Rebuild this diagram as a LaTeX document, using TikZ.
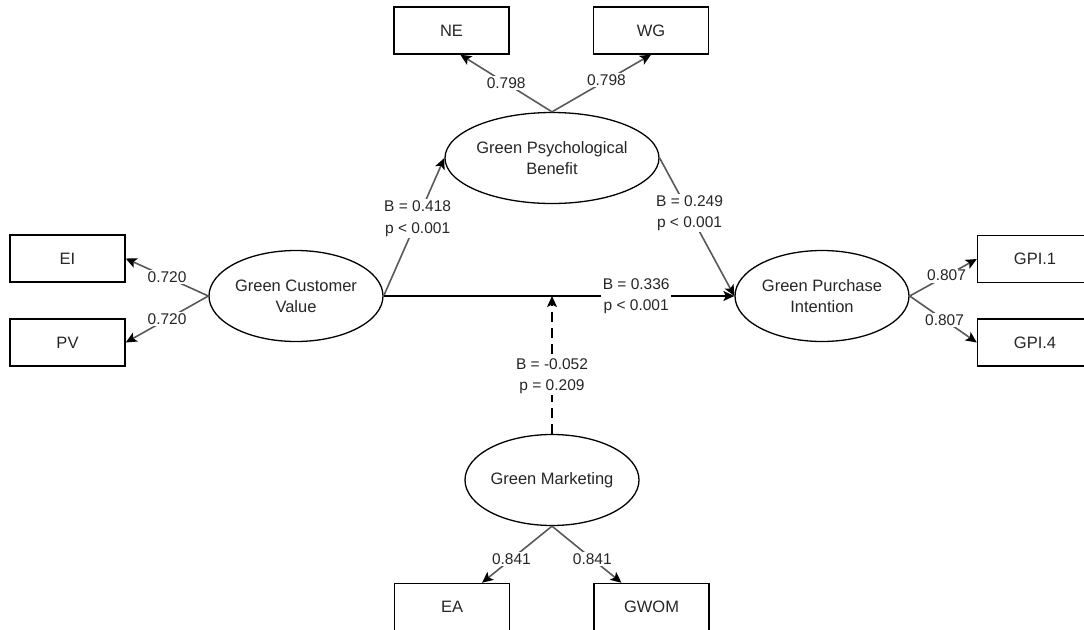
\documentclass[tikz,border=0pt]{standalone}
\usepackage{fontspec}
\setmainfont{Liberation Sans}
\usetikzlibrary{shapes.geometric,arrows.meta,calc}
\definecolor{txtgray}{HTML}{262626}
\definecolor{edgegray}{HTML}{595959}
\tikzset{
  latent/.style={ellipse, draw=black, line width=1.3pt, minimum width=174pt,
    minimum height=91pt, inner sep=0pt, align=center, text=txtgray,
    font=\fontsize{16.5}{21}\selectfont},
  indicator/.style={rectangle, draw=black, line width=1.4pt, minimum width=115pt,
    minimum height=47pt, text=txtgray, font=\fontsize{16.5}{21}\selectfont},
  coef/.style={fill=white, inner sep=1.5pt, align=center, text=txtgray,
    font=\fontsize{15.5}{21.5}\selectfont},
  tip/.style={-{Stealth[length=11pt,width=10pt,inset=2.5pt,color=black]}},
  loading/.style={draw=edgegray, line width=1.6pt, tip},
  regress/.style={draw=edgegray, line width=1.6pt, tip},
}
\begin{document}
\begin{tikzpicture}[x=1pt, y=-1pt]
        \useasboundingbox (0,0) rectangle (1084,629);
        % Latent constructs
        \node[latent] (gcv) at (296,296) {Green Customer\\Value};
        \node[latent] (gpb) at (552,158) {Green Psychological\\Benefit};
        \node[latent] (gpi) at (822,296) {Green Purchase\\Intention};
        \node[latent] (gm) at (552,480) {Green Marketing};

        % Indicators
        \node[indicator] (ne) at (451.5,30.5) {NE};
        \node[indicator] (wg) at (651,30.5) {WG};
        \node[indicator] (ei) at (67.5,258.5) {EI};
        \node[indicator] (pv) at (67.5,342.5) {PV};
        \node[indicator] (gpione) at (1035,259) {GPI.1};
        \node[indicator] (gpifour) at (1035,342.5) {GPI.4};
        \node[indicator] (ea) at (452,607) {EA};
        \node[indicator] (gwom) at (651.5,607) {GWOM};

        % Outer loadings
        \draw[loading] (gpb.north) -- node[coef] {0.798} (ne.-70);
        \draw[loading] (gpb.north) -- node[coef, pos=0.55] {0.798} (wg.south);
        \draw[loading] (gcv.west) -- node[coef] {0.720} (ei.east);
        \draw[loading] (gcv.west) -- node[coef] {0.720} (pv.east);
        \draw[loading] (gpi.east) -- node[coef, pos=0.55] {0.807} (gpione.west);
        \draw[loading] (gpi.east) -- node[coef, pos=0.52] {0.807} (gpifour.west);
        \draw[loading] (gm.south) -- node[coef, pos=0.58] {0.841} ([xshift=30pt]ea.north);
        \draw[loading] (gm.south) -- node[coef, pos=0.58] {0.841} ([xshift=-30pt]gwom.north);

        % Structural paths
        \draw[regress] (gcv.east) -- node[coef, pos=0.56] {B = 0.418\\p < 0.001} (gpb.west);
        \draw[regress] (gpb.east) -- node[coef, pos=0.4] {B = 0.249\\p < 0.001} (gpi.west);
        \draw[draw=black, line width=1.5pt, tip] (gcv.east) -- node[coef, pos=0.72] {B = 0.336\\p < 0.001} (gpi.west);

        % Moderation
        \coordinate (mod) at (gm.north |- gcv.east);
        \draw[draw=black, line width=1.5pt, dash pattern=on 10pt off 6pt, tip] (gm.north) -- node[coef, pos=0.42] {B = -0.052\\p = 0.209} (mod);
      \end{tikzpicture}
\end{document}
